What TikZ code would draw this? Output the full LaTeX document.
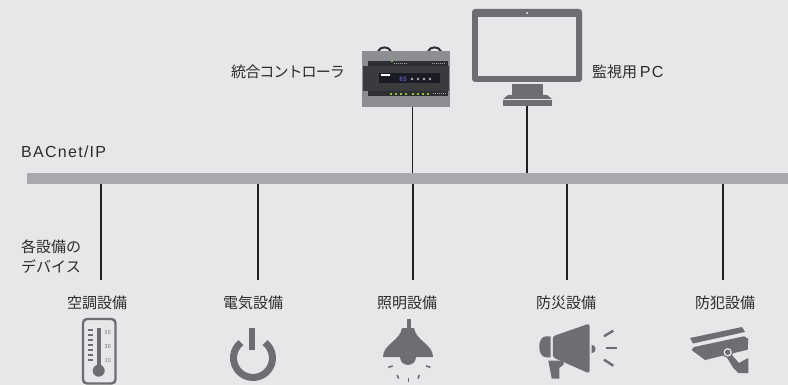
\documentclass[tikz,border=0pt]{standalone}
\usepackage{fontspec}
\setmainfont{Noto Sans CJK JP}
\newfontfamily\latinfont{Liberation Sans}[LetterSpace=8]
\newcommand{\lat}[1]{{\latinfont\fontsize{16}{18}\selectfont #1}}
\definecolor{bg}{HTML}{E6E7E8}
\definecolor{busgray}{HTML}{A7A9AC}
\definecolor{wire}{HTML}{231F20}
\definecolor{txt}{HTML}{2B2B2B}
\definecolor{icon}{HTML}{6D6E71}
\definecolor{ctrlbody}{HTML}{8C8E91}
\definecolor{ctrldark}{HTML}{3A3B3F}
\definecolor{ctrlband}{HTML}{2E2F33}
\definecolor{ctrlscreen}{HTML}{1B1B25}
\definecolor{led}{HTML}{8DC63F}
\begin{document}
\begin{tikzpicture}[x=1pt,y=-1pt,
  lbl/.style={font=\fontsize{15}{18}\selectfont, text=txt, inner sep=0pt},
  link/.style={draw=wire, line width=1.1pt},
  ico/.style={fill=icon, draw=none},
]
% canvas
\fill[bg] (0,0) rectangle (788,385);
\useasboundingbox (0,0) rectangle (788,385);

% BACnet/IP backbone
\node[fill=busgray, minimum width=761pt, minimum height=11pt, inner sep=0pt,
      anchor=north west] (bus) at (27,173) {};
\node[lbl, anchor=west] (netlbl) at (21,152) {\lat{BACnet/IP}};
\node[lbl, anchor=west] (devlbl1) at (21,247) {各設備の};
\node[lbl, anchor=west] (devlbl2) at (21,267) {デバイス};

% ---------- integrated controller ----------
\draw[draw=ctrlband, line width=2pt] (378,51.5) .. controls (380,46) and (389,46) .. (391,51.5);
\draw[draw=ctrlband, line width=2pt] (428,51.5) .. controls (430,46) and (439,46) .. (441,51.5);
\fill[ctrlbody] (362,51) rectangle (450,107);
\fill[ctrlband] (368,61) rectangle (448,66);
\fill[ctrldark] (363,66) rectangle (449,91);
\fill[ctrlband] (368,91) rectangle (448,96);
\fill[ctrlscreen] (379,73) rectangle (440,83);
\fill[white] (381,74.3) rectangle (390,76);
\node[font=\fontsize{6}{6}\selectfont\bfseries, text=blue!35!gray, inner sep=0pt] (ctrlnum) at (403,79) {65};
\foreach \dx in {412,418,424,430} \fill[gray!60] (\dx,79) circle (1.3);
\fill[led] (390.7,60.7) rectangle (392.7,62.5);
\draw[gray!70, line width=1pt, dash pattern=on 1pt off 1pt] (394,63.5) -- (407,63.5);
\draw[gray!70, line width=1pt, dash pattern=on 1pt off 1pt] (432,63.5) -- (446,63.5);
\foreach \dx in {390,395,400,405,412,417,422,427} \fill[led] (\dx,93.3) rectangle (\dx+2.2,95);
\draw[gray!70, line width=1pt, dash pattern=on 1pt off 1pt] (433,94) -- (447,94);
\node[lbl, anchor=west] (ctrllbl) at (231,72) {\addfontfeature{LetterSpace=-6}統合コントローラ};
\coordinate (ctrl) at (412.5,107);
\draw[link] (ctrl) -- (ctrl |- bus.north);

% ---------- monitoring PC ----------
\fill[icon, rounded corners=3pt] (472,9) rectangle (582,82);
\fill[bg] (478,17) rectangle (576,76);
\fill[white] (527,13) circle (1);
\fill[icon] (512,84) rectangle (543,95);
\fill[icon] (508,95) -- (547,95) -- (552,99) -- (503,99) -- cycle;
\fill[icon] (503,100) rectangle (552,106);
\node[lbl, anchor=west] (pclbl) at (592,72) {監視用\lat{\,PC}};
\coordinate (pc) at (527,106);
\draw[link] (pc) -- (pc |- bus.north);

% ---------- device drops ----------
\foreach \n/\x in {1/101,2/258,3/413,4/567,5/723}{
  \coordinate (d\n) at (\x,280);
  \draw[link] (d\n |- bus.south) -- (d\n);
}
\node[lbl] (hvac)   at (97,303)  {空調設備};
\node[lbl] (power)  at (253,303) {電気設備};
\node[lbl] (light)  at (407,303) {照明設備};
\node[lbl] (fire)   at (566,303) {防災設備};
\node[lbl] (secur)  at (725,303) {防犯設備};

% thermometer
\draw[draw=icon, line width=2.4pt, rounded corners=4pt] (83,319) rectangle (115.5,383.5);
\fill[icon] (96.7,327.7) rectangle (100.7,366);
\fill[icon] (98.7,370.7) circle (6);
\foreach \ty in {330,335,340,345,350,355,360} \draw[icon, line width=1.3pt] (88,\ty) -- (92.5,\ty);
\foreach \lv/\ty in {50/333,30/346.5,10/361}
  \node[font=\fontsize{5.5}{6}\selectfont, text=icon, inner sep=0pt, anchor=west] at (104.5,\ty) {\lv};

% power symbol
\draw[draw=icon, line width=7pt] (253,358) ++(-52:19.5) arc[start angle=-52, end angle=232, radius=19.5];
\fill[icon] (249.3,327.7) rectangle (254.5,350);

% pendant lamp
\fill[icon] (406.5,319) rectangle (410.5,329);
\fill[icon] (402,328) .. controls (400,341) and (383,344) .. (383,357)
  -- (433,357) .. controls (433,344) and (416,341) .. (414,328) -- cycle;
\fill[icon] (416,357) arc[start angle=0, end angle=180, radius=8] -- cycle;
\draw[icon, line width=1.6pt] (388.3,367.3) -- (392.7,366);
\draw[icon, line width=1.6pt] (426,366) -- (430.4,367.3);
\draw[icon, line width=1.6pt] (397.2,375) -- (398.6,378.5);
\draw[icon, line width=1.6pt] (408.3,377.5) -- (408.3,382);
\draw[icon, line width=1.6pt] (419.4,375) -- (418,378.5);

% megaphone
\fill[icon] (550.7,336.3) -- (546,336.3) .. controls (537,336.3) and (537,357.3) .. (546,357.3) -- (550.7,357.3) -- cycle;
\fill[icon, rounded corners=2.5pt] (552.8,336.3) -- (589.5,323.5) -- (589.5,373.5) -- (552.8,357.3) -- cycle;
\fill[icon] (591.5,344.8) arc[start angle=-90, end angle=90, radius=4.2] -- cycle;
\fill[icon] (548.3,360.5) -- (563.5,360.5) -- (563.5,364.7) -- (559.3,368) -- (559.3,378.5) -- (551.7,378.5) -- cycle;
\draw[icon, line width=2.4pt] (604,336.3) -- (613.3,330.7);
\draw[icon, line width=2.4pt] (606,348) -- (617.3,348);
\draw[icon, line width=2.4pt] (604,359.7) -- (613.3,365.7);

% security camera
\fill[icon] (690,338) -- (742,327) -- (745,332) -- (693,343.5) -- cycle;
\fill[icon] (694,347) -- (744,336.3) -- (748.3,338.7) -- (747.7,349.7) -- (705,360) -- (691.5,350) -- cycle;
\fill[icon] (726,356) -- (731,354) -- (739,363) -- (744.3,360) -- (748.3,358) -- (748.3,373) -- (738.3,373) -- (733.3,368) -- cycle;
\fill[icon] (727.7,352.3) circle (5.6);
\fill[bg] (727.7,352.3) circle (4.2);
\fill[icon] (727.7,352.3) circle (2.7);
\end{tikzpicture}
\end{document}
